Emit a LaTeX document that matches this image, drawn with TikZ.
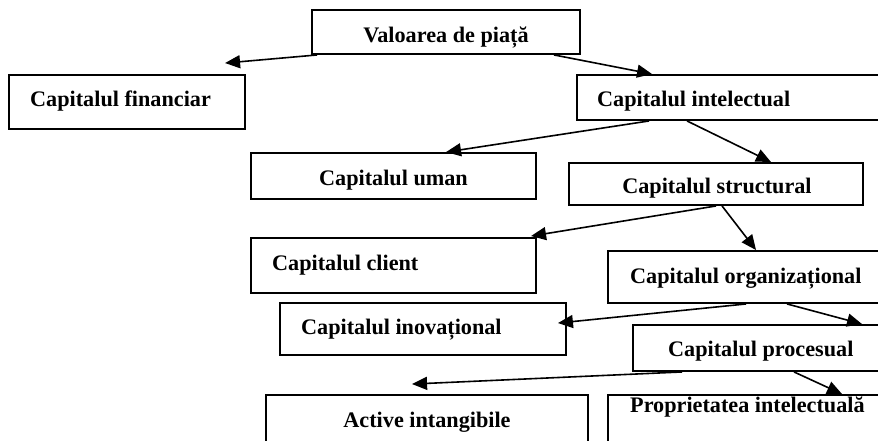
\documentclass[tikz,border=0pt]{standalone}
\usepackage{fontspec}
\setmainfont{Liberation Serif}
\usetikzlibrary{arrows.meta,calc,fit}
\newcommand\mkbox[5]{%
  \path (#2,#3) coordinate (#1a) (#4,#5) coordinate (#1b);
  \node[box, fit=(#1a)(#1b)] (#1) {};}
\begin{document}
\begin{tikzpicture}[x=1pt,y=-1pt,
  box/.style={draw, line width=1.9pt, rectangle, inner sep=0pt},
  lbl/.style={inner sep=0pt, font=\bfseries\fontsize{22.2}{26}\selectfont},
  arr/.style={line width=1.6pt, -{Triangle[length=15pt,width=13pt]}}]
\useasboundingbox (0,0) rectangle (878,440);
\clip (0,0) rectangle (878,440);
% boxes
\mkbox{vp}{312}{10}{580}{54}
\mkbox{fin}{9}{75}{245}{129}
\mkbox{int}{577}{75}{900}{120}
\mkbox{uman}{251}{153}{536}{199}
\mkbox{str}{569}{163}{863}{205}
\mkbox{cli}{251}{238}{536}{293}
\mkbox{org}{608}{251}{900}{303}
\mkbox{ino}{280}{303}{566}{355}
\mkbox{pro}{633}{325}{900}{371}
\mkbox{act}{266}{395}{588}{460}
\mkbox{ppi}{608}{395}{900}{460}
% labels
\node[lbl, anchor=base] (vpt) at (446,42) {Valoarea de piață};
\node[lbl, anchor=base west] (fint) at (30,106) {Capitalul financiar};
\node[lbl, anchor=base west] (intt) at (597,106) {Capitalul intelectual};
\node[lbl, anchor=base] (umant) at (393.5,185) {Capitalul uman};
\node[lbl, anchor=base] (strt) at (717,193) {Capitalul structural};
\node[lbl, anchor=base west] (clit) at (272,270) {Capitalul client};
\node[lbl, anchor=base west] (orgt) at (630,283) {Capitalul organizațional};
\node[lbl, anchor=base west] (inot) at (301,334) {Capitalul inovațional};
\node[lbl, anchor=base west] (prot) at (668,356) {Capitalul procesual};
\node[lbl, anchor=base] (actt) at (427,427) {Active intangibile};
\node[lbl, anchor=base west] (ppit) at (630,412) {Proprietatea intelectuală};
% connectors
\draw[arr] ($(vp.south west)+(6,0)$) -- ($(fin.north west)+(217,-11)$);
\draw[arr] ($(vp.south west)+(243,0)$) -- ($(int.north west)+(76,0)$);
\draw[arr] ($(int.south west)+(73,0)$) -- ($(uman.north west)+(196,0)$);
\draw[arr] ($(int.south west)+(111,0)$) -- ($(str.north west)+(203,0)$);
\draw[arr] ($(str.south west)+(148,0)$) -- ($(cli.north west)+(281,-1)$);
\draw[arr] ($(str.south west)+(154,0)$) -- ($(org.north west)+(149,0)$);
\draw[arr] ($(org.south west)+(139,0)$) -- ($(ino.north east)+(-9,21)$);
\draw[arr] ($(org.south west)+(180,0)$) -- ($(pro.north west)+(230,0)$);
\draw[arr] ($(pro.south west)+(50,0)$) -- ($(act.north west)+(147,-10)$);
\draw[arr] ($(pro.south west)+(162,0)$) -- ($(ppi.north west)+(235,0)$);
\end{tikzpicture}
\end{document}
